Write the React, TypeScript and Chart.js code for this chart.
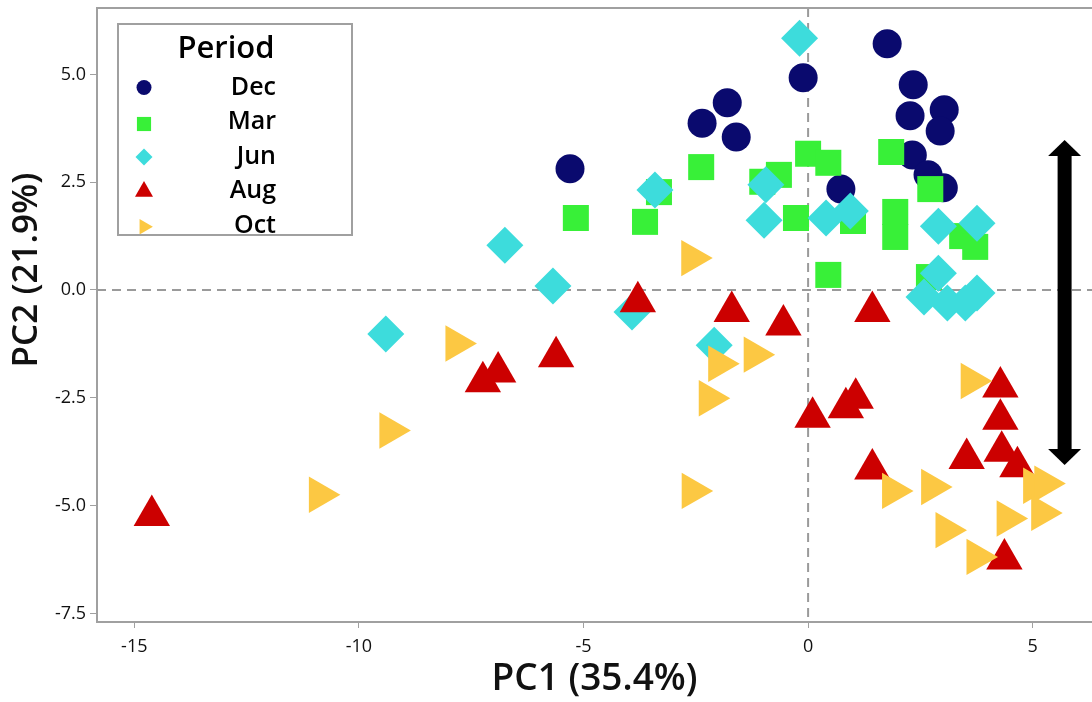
import React, { useEffect, useRef } from 'react';
import { Chart, registerables } from 'chart.js';

Chart.register(...registerables);

// ---- Data ----
const decX = [-5.3, -2.36, -1.8, -1.6, -0.11, 1.76, 0.73, 2.34, 2.27, 3.03, 2.94, 2.32, 2.67, 3.01];
const decY = [2.81, 3.87, 4.34, 3.55, 4.92, 5.71, 2.34, 4.76, 4.04, 4.18, 3.69, 3.13, 2.67, 2.37];

const marX = [-5.17, -3.63, -3.32, -2.38, -1.02, -0.65, 0.0, 0.45, -0.27, 1.0, 0.45, 1.85, 2.72, 1.94, 1.94, 3.43, 3.72, 2.69];
const marY = [1.67, 1.58, 2.27, 2.85, 2.51, 2.67, 3.16, 2.95, 1.67, 1.6, 0.35, 3.2, 2.34, 1.81, 1.23, 1.25, 1.0, 0.3];

const junX = [-0.19, -3.41, -0.94, -0.98, 0.4, 0.94, 2.9, 3.76, -5.68, -6.75, -3.92, -9.4, -2.09, 2.9, 2.58, 3.1, 3.5, 3.76];
const junY = [5.84, 2.32, 2.44, 1.62, 1.67, 1.83, 1.48, 1.55, 0.09, 1.04, -0.51, -1.02, -1.28, 0.39, -0.16, -0.3, -0.3, -0.07];

const augX = [-14.61, -7.24, -6.9, -5.61, -3.79, -1.7, -0.55, 1.43, 0.1, 0.84, 1.06, 1.43, 4.28, 4.28, 4.31, 3.53, 4.66, 4.37];
const augY = [-5.23, -2.13, -1.9, -1.55, -0.27, -0.5, -0.81, -0.5, -2.95, -2.73, -2.51, -4.15, -2.25, -3.0, -3.74, -3.91, -4.1, -6.24];

const octX = [-7.84, -9.31, -10.88, -2.59, -1.99, -1.2, -2.2, -2.58, 3.63, 1.88, 2.75, 5.02, 5.27, 4.43, 5.2, 3.07, 3.76];
const octY = [-1.24, -3.26, -4.75, 0.74, -1.71, -1.5, -2.51, -4.66, -2.11, -4.66, -4.57, -4.54, -4.49, -5.3, -5.17, -5.57, -6.19];

const periods = ['Dec', 'Mar', 'Jun', 'Aug', 'Oct'];
const xTickValues = [-15, -10, -5, 0, 5];
const yTickValues = [-7.5, -5, -2.5, 0, 2.5, 5];

const xTitle = 'PC1 (35.4%)';
const yTitle = 'PC2 (21.9%)';
const legendTitle = 'Period';

// Double arrow annotation (data units)
const arrowX = 5.71;
const arrowTop = 3.48;
const arrowBottom = -4.06;

// ---- Styles ----
const FONT = "'Open Sans', 'Noto Sans', sans-serif";
const AXIS_GRAY = '#a0a0a0';

type Style = { color: string; shape: string; rot: number; r: number; legendR: number };
const styles: Style[] = [
  { color: '#0a0a6e', shape: 'circle', rot: 0, r: 14.5, legendR: 7.5 },
  { color: '#38f038', shape: 'rect', rot: 0, r: 18.4, legendR: 10 },
  { color: '#3ddcdc', shape: 'rectRot', rot: 0, r: 18.5, legendR: 8.5 },
  { color: '#cc0000', shape: 'triangle', rot: 0, r: 21, legendR: 10.4 },
  { color: '#fcc843', shape: 'triangle', rot: 90, r: 21, legendR: 8.9 },
];

const seriesX = [decX, marX, junX, augX, octX];
const seriesY = [decY, marY, junY, augY, octY];

function drawMarker(ctx: CanvasRenderingContext2D, shape: string, x: number, y: number, r: number, rot: number) {
  ctx.beginPath();
  if (shape === 'circle') {
    ctx.arc(x, y, r, 0, Math.PI * 2);
  } else if (shape === 'rect') {
    const s = r * Math.SQRT1_2;
    ctx.rect(x - s, y - s, 2 * s, 2 * s);
  } else if (shape === 'rectRot') {
    ctx.moveTo(x - r, y);
    ctx.lineTo(x, y - r);
    ctx.lineTo(x + r, y);
    ctx.lineTo(x, y + r);
    ctx.closePath();
  } else {
    let a = (rot * Math.PI) / 180;
    for (let k = 0; k < 3; k++) {
      const px = x + Math.sin(a) * r;
      const py = y - Math.cos(a) * r;
      if (k === 0) ctx.moveTo(px, py);
      else ctx.lineTo(px, py);
      a += (2 * Math.PI) / 3;
    }
    ctx.closePath();
  }
  ctx.fill();
}

const zeroPadding = (s: any) => {
  s.paddingTop = 0;
  s.paddingBottom = 0;
  s.paddingLeft = 0;
  s.paddingRight = 0;
};

const decorPlugin = {
  id: 'decor',
  beforeDatasetsDraw(chart: any) {
    const { ctx, chartArea, scales } = chart;
    const xs = scales.x;
    const ys = scales.y;
    ctx.save();
    // dashed zero reference lines
    ctx.strokeStyle = '#9a9a9a';
    ctx.lineWidth = 2;
    ctx.setLineDash([9, 6]);
    const x0 = xs.getPixelForValue(0);
    const y0 = ys.getPixelForValue(0);
    ctx.beginPath();
    ctx.moveTo(chartArea.left, y0);
    ctx.lineTo(chartArea.right, y0);
    ctx.moveTo(x0, chartArea.top);
    ctx.lineTo(x0, chartArea.bottom);
    ctx.stroke();
    ctx.setLineDash([]);
    // top frame line
    ctx.strokeStyle = AXIS_GRAY;
    ctx.lineWidth = 2;
    ctx.beginPath();
    ctx.moveTo(chartArea.left, chartArea.top);
    ctx.lineTo(chartArea.right, chartArea.top);
    ctx.stroke();
    ctx.restore();
  },
  afterDatasetsDraw(chart: any) {
    const { ctx, scales } = chart;
    const xs = scales.x;
    const ys = scales.y;
    ctx.save();

    // double-headed arrow
    const ax = xs.getPixelForValue(arrowX);
    const at = ys.getPixelForValue(arrowTop);
    const ab = ys.getPixelForValue(arrowBottom);
    const headH = 16;
    const headW = 33;
    const shaftW = 14;
    ctx.fillStyle = '#000';
    ctx.fillRect(ax - shaftW / 2, at + headH - 1, shaftW, ab - at - 2 * headH + 2);
    ctx.beginPath();
    ctx.moveTo(ax, at);
    ctx.lineTo(ax + headW / 2, at + headH);
    ctx.lineTo(ax - headW / 2, at + headH);
    ctx.closePath();
    ctx.fill();
    ctx.beginPath();
    ctx.moveTo(ax, ab);
    ctx.lineTo(ax + headW / 2, ab - headH);
    ctx.lineTo(ax - headW / 2, ab - headH);
    ctx.closePath();
    ctx.fill();

    // legend box
    const bx = 118, by = 24, bw = 234, bh = 211;
    ctx.fillStyle = '#ffffff';
    ctx.fillRect(bx, by, bw, bh);
    ctx.save();
    ctx.beginPath();
    ctx.rect(bx, by, bw, bh);
    ctx.clip();
    ctx.fillStyle = '#000';
    ctx.textAlign = 'center';
    ctx.textBaseline = 'alphabetic';
    ctx.font = `600 31px ${FONT}`;
    ctx.fillText(legendTitle, 226, 57.5);
    ctx.font = `600 25px ${FONT}`;
    ctx.textAlign = 'right';
    const baselines = [94.5, 129, 163.5, 198, 232.5];
    const markerY = [87.5, 124, 157, 191.5, 226.7];
    periods.forEach((p, i) => {
      ctx.fillStyle = '#000';
      ctx.fillText(p, 276, baselines[i]);
      ctx.fillStyle = styles[i].color;
      drawMarker(ctx, styles[i].shape, 144, markerY[i], styles[i].legendR, styles[i].rot);
    });
    ctx.restore();
    ctx.strokeStyle = AXIS_GRAY;
    ctx.lineWidth = 2;
    ctx.strokeRect(bx, by, bw, bh);

    // y axis title
    ctx.save();
    ctx.translate(27, 270);
    ctx.rotate(-Math.PI / 2);
    ctx.fillStyle = '#111';
    ctx.font = `600 35px ${FONT}`;
    ctx.textAlign = 'center';
    ctx.textBaseline = 'middle';
    ctx.fillText(yTitle, 0, 0);
    ctx.restore();

    ctx.restore();
  },
};

export default function App() {
  const canvasRef = useRef<HTMLCanvasElement>(null);

  useEffect(() => {
    if (!canvasRef.current) return;
    const datasets = periods.map((p, i) => ({
      label: p,
      data: seriesX[i].map((x, j) => ({ x, y: seriesY[i][j] })),
      backgroundColor: styles[i].color,
      borderWidth: 0,
      pointStyle: styles[i].shape,
      pointRotation: styles[i].rot,
      pointRadius: styles[i].r,
      pointHoverRadius: styles[i].r,
      pointBorderWidth: 0,
      order: periods.length - 1 - i,
    }));

    const chart = new Chart(canvasRef.current, {
      type: 'scatter',
      data: { datasets },
      options: {
        animation: false,
        responsive: true,
        maintainAspectRatio: false,
        layout: { autoPadding: false, padding: { top: 8, right: 0, left: 0, bottom: 0 } },
        plugins: { legend: { display: false }, tooltip: { enabled: false } },
        scales: {
          x: {
            type: 'linear',
            min: -15.83,
            max: 6.32,
            afterFit: (s: any) => {
              s.height = 80;
              zeroPadding(s);
            },
            afterBuildTicks: (s: any) => {
              s.ticks = xTickValues.map((v) => ({ value: v }));
            },
            ticks: {
              includeBounds: false,
              maxRotation: 0,
              autoSkip: false,
              padding: 8,
              color: '#111',
              font: { family: FONT, size: 18 },
              callback: (v: any) => String(v),
            },
            grid: { drawOnChartArea: false, drawTicks: true, tickLength: 6, color: AXIS_GRAY, lineWidth: 1 },
            border: { color: AXIS_GRAY, width: 2 },
            title: {
              display: true,
              text: xTitle,
              color: '#111',
              font: { family: FONT, size: 37, weight: '600' },
              padding: { top: 0, bottom: 0 },
            },
          },
          y: {
            type: 'linear',
            min: -7.7,
            max: 6.54,
            afterFit: (s: any) => {
              s.width = 97;
              zeroPadding(s);
            },
            afterBuildTicks: (s: any) => {
              s.ticks = yTickValues.map((v) => ({ value: v }));
            },
            ticks: {
              includeBounds: false,
              autoSkip: false,
              padding: 4,
              color: '#111',
              font: { family: FONT, size: 18 },
              callback: (v: any) => Number(v).toFixed(1),
            },
            grid: { drawOnChartArea: false, drawTicks: true, tickLength: 7, color: AXIS_GRAY, lineWidth: 1 },
            border: { color: AXIS_GRAY, width: 2 },
            title: { display: false },
          },
        },
      },
      plugins: [decorPlugin],
    } as any);

    return () => chart.destroy();
  }, []);

  return (
    <div style={{ position: 'fixed', left: 0, top: 0, width: 1092, height: 702, background: '#fff' }}>
      <canvas ref={canvasRef} />
    </div>
  );
}
